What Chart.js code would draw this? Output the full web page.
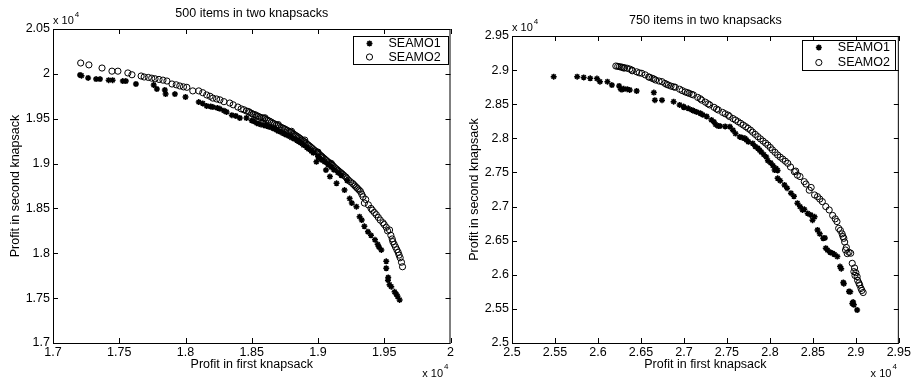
<!DOCTYPE html>
<html>
<head>
<meta charset="utf-8">
<script src="https://cdn.jsdelivr.net/npm/chart.js@4.4.1/dist/chart.umd.min.js"></script>
<style>
  html, body { margin: 0; padding: 0; background: #fff; }
  #wrap { position: relative; width: 913px; height: 381px; }
  canvas { position: absolute; top: 0; }
  #chart-500 { left: 0; }
  #chart-750 { left: 456px; }
</style>
</head>
<body>
<div id="wrap">
  <canvas id="chart-500" width="456" height="381"></canvas>
  <canvas id="chart-750" width="457" height="381"></canvas>
</div>
<script>
// ---- 500 items ----
const ticks500X = [17000, 17500, 18000, 18500, 19000, 19500, 20000];
const ticks500Y = [17000, 17500, 18000, 18500, 19000, 19500, 20000, 20500];

const seamo1_500 = [
  [17204, 19987], [17215, 19980], [17265, 19955], [17325, 19942], [17355, 19942],
  [17420, 19930], [17450, 19930], [17527, 19920], [17550, 19920], [17626, 19887],
  [17760, 19876], [17784, 19831], [17844, 19820], [17850, 19775], [17920, 19775],
  [18000, 19742], [18100, 19686], [18130, 19670], [18160, 19642], [18190, 19636],
  [18207, 19630], [18240, 19620], [18260, 19610], [18290, 19590], [18310, 19575],
  [18350, 19540], [18380, 19530], [18410, 19508], [18460, 19508], [18500, 19480],
  [18520, 19470], [18538, 19450], [18555, 19445], [18570, 19435], [18590, 19428],
  [18610, 19420], [18630, 19410], [18650, 19400], [18670, 19388], [18688, 19374],
  [18700, 19362], [18720, 19350], [18740, 19336], [18760, 19320], [18780, 19306],
  [18800, 19290], [18820, 19276], [18840, 19260], [18855, 19246], [18870, 19230],
  [18890, 19206], [18915, 19180], [18930, 19162], [18950, 19140], [18965, 19120],
  [18988, 19020], [19000, 19080], [19010, 19060], [19030, 19040], [19050, 19020],
  [19075, 18990], [19100, 18960], [19120, 18930], [19150, 18900], [19175, 18870],
  [19220, 18810], [19060, 18928], [19090, 18855], [19140, 18780], [19200, 18705],
  [19239, 18610], [19255, 18560], [19290, 18520], [19314, 18408], [19330, 18370],
  [19350, 18300], [19377, 18240], [19400, 18200], [19430, 18150], [19450, 18100],
  [19460, 18070], [19478, 18037], [19515, 17910], [19515, 17833], [19528, 17700],
  [19530, 17730], [19540, 17650], [19553, 17628], [19578, 17570], [19590, 17545],
  [19600, 17520], [19616, 17480]
];
const seamo2_500 = [
  [17209, 20121], [17271, 20100], [17370, 20065], [17445, 20030], [17490, 20030],
  [17565, 20010], [17596, 19990], [17665, 19976], [17688, 19965], [17720, 19960],
  [17745, 19952], [17770, 19945], [17800, 19938], [17830, 19930], [17860, 19920],
  [17898, 19887], [17930, 19878], [17957, 19865], [17985, 19855], [18010, 19850],
  [18055, 19810], [18100, 19810], [18130, 19790], [18160, 19765], [18185, 19750],
  [18206, 19730], [18235, 19720], [18260, 19710], [18290, 19690], [18334, 19675],
  [18360, 19655], [18395, 19630], [18420, 19610], [18440, 19600], [18460, 19586],
  [18475, 19580], [18485, 19570], [18500, 19558], [18510, 19550], [18525, 19545],
  [18535, 19535], [18548, 19528], [18560, 19518], [18572, 19512], [18585, 19508],
  [18598, 19500], [18600, 19510], [18610, 19490], [18622, 19482], [18635, 19472],
  [18648, 19462], [18660, 19450], [18672, 19442], [18685, 19432], [18698, 19424],
  [18700, 19435], [18710, 19412], [18722, 19404], [18734, 19396], [18745, 19388],
  [18755, 19380], [18768, 19370], [18780, 19360], [18790, 19352], [18800, 19345],
  [18800, 19360], [18812, 19333], [18820, 19325], [18830, 19315], [18840, 19305],
  [18850, 19296], [18860, 19285], [18870, 19274], [18880, 19262], [18890, 19250],
  [18900, 19240], [18900, 19262], [18910, 19228], [18920, 19215], [18930, 19203],
  [18940, 19190], [18950, 19178], [18960, 19165], [18970, 19152], [18980, 19140],
  [18990, 19128], [19000, 19115], [19000, 19128], [19010, 19103], [19020, 19090],
  [19028, 19080], [19035, 19070], [19045, 19058], [19055, 19045], [19065, 19032],
  [19075, 19020], [19082, 19010], [19090, 19000], [19100, 18990], [19100, 19002],
  [19110, 18980], [19120, 18965], [19130, 18950], [19140, 18938], [19150, 18925],
  [19160, 18912], [19170, 18900], [19178, 18890], [19186, 18880], [19198, 18865],
  [19210, 18850], [19220, 18832], [19230, 18815], [19245, 18797], [19260, 18780],
  [19270, 18765], [19280, 18750], [19290, 18735], [19300, 18720], [19310, 18705],
  [19320, 18690], [19330, 18660], [19340, 18630], [19350, 18560], [19360, 18600],
  [19380, 18540], [19400, 18500], [19410, 18480], [19425, 18455], [19440, 18430],
  [19455, 18400], [19470, 18370], [19490, 18340], [19500, 18320], [19515, 18290],
  [19525, 18250], [19540, 18260], [19550, 18200], [19560, 18160], [19565, 18130],
  [19575, 18100], [19585, 18070], [19595, 18040], [19605, 18010], [19612, 17980],
  [19620, 17950], [19630, 17900], [19638, 17850]
];

// ---- 750 items ----
const ticks750X = [25000, 25500, 26000, 26500, 27000, 27500, 28000, 28500, 29000, 29500];
const ticks750Y = [25000, 25500, 26000, 26500, 27000, 27500, 28000, 28500, 29000, 29500];

const seamo1_750 = [
  [25485, 28904], [25758, 28904], [25834, 28893], [25910, 28880], [25988, 28876],
  [26023, 28830], [26110, 28830], [26162, 28780], [26246, 28768], [26265, 28720],
  [26280, 28715], [26300, 28725], [26340, 28720], [26370, 28710], [26450, 28694],
  [26650, 28670], [26662, 28560], [26745, 28560], [26880, 28537], [26950, 28490],
  [26996, 28465], [27000, 28455], [27050, 28440], [27090, 28416], [27120, 28400],
  [27150, 28385], [27190, 28368], [27220, 28345], [27265, 28320], [27320, 28270],
  [27350, 28240], [27370, 28200], [27400, 28180], [27420, 28180], [27480, 28175],
  [27535, 28170], [27570, 28120], [27600, 28070], [27650, 28020], [27680, 28010],
  [27710, 28000], [27727, 27977], [27750, 27950], [27800, 27925], [27830, 27880],
  [27860, 27855], [27880, 27826], [27900, 27800], [27930, 27760], [27958, 27728],
  [27977, 27672], [28010, 27640], [28035, 27600], [28055, 27535], [28070, 27560],
  [28090, 27530], [28090, 27414], [28120, 27380], [28170, 27316], [28200, 27270],
  [28245, 27196], [28280, 27150], [28320, 27050], [28350, 27000], [28379, 26950],
  [28400, 26960], [28440, 26900], [28476, 26876], [28496, 26800], [28520, 26850],
  [28554, 26656], [28580, 26600], [28620, 26535], [28640, 26540], [28650, 26390],
  [28670, 26360], [28700, 26330], [28727, 26316], [28750, 26300], [28785, 26267],
  [28816, 26120], [28830, 26090], [28854, 25887], [28860, 25870], [28920, 25755],
  [28935, 25750], [28958, 25580], [28968, 25600], [28977, 25560], [29015, 25484]
];
const seamo2_750 = [
  [26208, 29060], [26230, 29055], [26250, 29050], [26270, 29045], [26285, 29040],
  [26300, 29030], [26310, 29035], [26340, 29027], [26370, 29015], [26396, 29000],
  [26400, 28990], [26450, 28975], [26480, 28960], [26510, 28953], [26550, 28930],
  [26590, 28900], [26600, 28895], [26630, 28880], [26650, 28870], [26670, 28855],
  [26710, 28840], [26745, 28830], [26780, 28805], [26800, 28790], [26820, 28780],
  [26850, 28765], [26880, 28755], [26900, 28748], [26950, 28720], [26980, 28700],
  [27015, 28680], [27040, 28670], [27060, 28660], [27090, 28645], [27110, 28636],
  [27160, 28600], [27190, 28580], [27207, 28560], [27250, 28530], [27280, 28505],
  [27300, 28490], [27350, 28455], [27380, 28430], [27400, 28415], [27450, 28380],
  [27480, 28360], [27515, 28340], [27530, 28320], [27570, 28290], [27600, 28268],
  [27630, 28244], [27660, 28220], [27690, 28195], [27720, 28170], [27746, 28147],
  [27775, 28120], [27800, 28090], [27830, 28058], [27860, 28024], [27890, 27992],
  [27920, 27960], [27950, 27930], [27977, 27900], [28005, 27866], [28030, 27830],
  [28060, 27795], [28090, 27756], [28120, 27725], [28150, 27695], [28180, 27665],
  [28208, 27634], [28240, 27580], [28285, 27510], [28300, 27520], [28320, 27460],
  [28350, 27440], [28400, 27365], [28420, 27330], [28458, 27240], [28480, 27280],
  [28520, 27170], [28554, 27145], [28580, 27110], [28610, 27072], [28650, 27000],
  [28690, 26950], [28730, 26870], [28760, 26820], [28780, 26780], [28800, 26680],
  [28820, 26650], [28840, 26600], [28850, 26560], [28860, 26535], [28870, 26480],
  [28880, 26363], [28890, 26400], [28900, 26310], [28920, 26330], [28940, 26316],
  [28958, 26168], [28977, 26046], [28985, 26100], [28990, 25990], [29000, 26030],
  [29015, 25973], [29020, 25920], [29035, 25880], [29045, 25850], [29060, 25800],
  [29070, 25770], [29085, 25740]
];

const BLACK = '#000';
const FONT = { family: '"Liberation Sans", Arial, Helvetica, sans-serif', size: 12.5 };
Chart.defaults.font.family = FONT.family;

const fmtTick = v => String(Math.round(v / 1e4 * 100) / 100);

// MATLAB-style box, inward ticks on all four sides, "x 10^4" exponents
const matlabAxes = {
  id: 'matlabAxes',
  afterDatasetsDraw(chart) {
    const { ctx, chartArea: a, scales: { x, y } } = chart;
    const t = 5;
    ctx.save();
    ctx.strokeStyle = BLACK;
    ctx.lineWidth = 1;
    ctx.beginPath();
    x.ticks.forEach(tk => {
      const px = Math.round(x.getPixelForValue(tk.value)) + 0.5;
      ctx.moveTo(px, a.bottom); ctx.lineTo(px, a.bottom - t);
      ctx.moveTo(px, a.top); ctx.lineTo(px, a.top + t);
    });
    y.ticks.forEach(tk => {
      const py = Math.round(y.getPixelForValue(tk.value)) + 0.5;
      ctx.moveTo(a.left, py); ctx.lineTo(a.left + t, py);
      ctx.moveTo(a.right, py); ctx.lineTo(a.right - t, py);
    });
    ctx.stroke();
    ctx.strokeRect(a.left + 0.5, a.top + 0.5, a.right - a.left - 1, a.bottom - a.top);

    ctx.fillStyle = BLACK;
    ctx.textBaseline = 'alphabetic';
    // exponent above y axis
    ctx.font = '11px ' + FONT.family;
    ctx.textAlign = 'left';
    ctx.fillText('x 10', a.left, a.top - 5);
    const w = ctx.measureText('x 10').width;
    ctx.font = '8px ' + FONT.family;
    ctx.fillText('4', a.left + w + 1, a.top - 12);
    // exponent below x axis
    ctx.textAlign = 'right';
    ctx.fillText('4', a.right - 2, a.bottom + 26);
    const w4 = ctx.measureText('4').width;
    ctx.font = '11px ' + FONT.family;
    ctx.fillText('x 10', a.right - 3 - w4, a.bottom + 33.5);
    ctx.restore();
  },
  afterDraw(chart, args, opts) {
    // boxed legend inside the axes (top right)
    const { ctx, chartArea: a } = chart;
    const bx = a.right - opts.inset - opts.width;
    const by = a.top + opts.top;
    ctx.save();
    ctx.fillStyle = '#fff';
    ctx.fillRect(bx, by, opts.width, opts.height);
    ctx.strokeStyle = BLACK;
    ctx.lineWidth = 1;
    ctx.strokeRect(Math.round(bx) + 0.5, Math.round(by) + 0.5, opts.width, opts.height);
    chart.data.datasets.forEach((ds, i) => {
      const ry = by + opts.rows[i];
      ctx.strokeStyle = BLACK;
      ctx.fillStyle = 'rgba(0,0,0,0)';
      ctx.lineWidth = ds.borderWidth;
      Chart.helpers.drawPoint(ctx, { pointStyle: ds.pointStyle, radius: ds.pointRadius, rotation: 0, borderWidth: ds.borderWidth }, bx + 17, ry);
      ctx.fillStyle = BLACK;
      ctx.font = '12.5px ' + FONT.family;
      ctx.textAlign = 'left';
      ctx.textBaseline = 'middle';
      ctx.fillText(ds.label, bx + 36, ry + 0.5);
    });
    ctx.restore();
  }
};

function toPoints(pairs) {
  return pairs.map(p => ({ x: p[0], y: p[1] }));
}

function axisCfg(tickList, titleText, titlePad, fit) {
  return {
    type: 'linear',
    min: tickList[0],
    max: tickList[tickList.length - 1],
    afterBuildTicks: s => { s.ticks = tickList.map(v => ({ value: v })); },
    afterFit: fit,
    grid: { display: false, drawTicks: false },
    border: { display: false },
    ticks: { callback: fmtTick, color: BLACK, font: FONT, maxRotation: 0, autoSkip: false },
    title: { display: true, text: titleText, color: BLACK, font: FONT, padding: titlePad }
  };
}

function createKnapsackChart(id, cfg) {
  const ctx = document.getElementById(id);
  if (!ctx) return;

  const x = axisCfg(cfg.xTicks, 'Profit in first knapsack', { top: 0, bottom: 8.5 }, s => { s.height = 38; });
  x.ticks.padding = 2;
  const y = axisCfg(cfg.yTicks, 'Profit in second knapsack', { top: cfg.yTitlePad, bottom: 0 }, s => { s.width = cfg.yAxisWidth; });
  y.ticks.padding = 3;

  new Chart(ctx, {
    type: 'scatter',
    data: {
      datasets: [
        {
          label: 'SEAMO1',
          data: toPoints(cfg.s1),
          pointStyle: 'star',
          pointRadius: 3,
          borderWidth: 1.5,
          borderColor: BLACK,
          backgroundColor: BLACK
        },
        {
          label: 'SEAMO2',
          data: toPoints(cfg.s2),
          pointStyle: 'circle',
          pointRadius: 3.1,
          borderWidth: 1,
          borderColor: BLACK,
          backgroundColor: 'rgba(0,0,0,0)'
        }
      ]
    },
    options: {
      responsive: false,
      animation: false,
      events: [],
      layout: { padding: { left: 0, right: cfg.padRight, top: 0, bottom: 0 } },
      plugins: {
        legend: { display: false },
        tooltip: { enabled: false },
        title: {
          display: true,
          text: cfg.title,
          fullSize: false,
          color: BLACK,
          font: { ...FONT, weight: 'normal' },
          padding: { top: cfg.titlePadTop, bottom: 7.5 }
        },
        matlabAxes: cfg.legendBox
      },
      scales: { x, y }
    },
    plugins: [matlabAxes]
  });
}

createKnapsackChart('chart-500', {
  title: '500 items in two knapsacks',
  xTicks: ticks500X, yTicks: ticks500Y,
  s1: seamo1_500, s2: seamo2_500,
  yAxisWidth: 53, yTitlePad: 8.5, padRight: 5, titlePadTop: 6.5,
  legendBox: { inset: 3, top: 7, width: 95, height: 28, rows: [7.5, 21] }
});

createKnapsackChart('chart-750', {
  title: '750 items in two knapsacks',
  xTicks: ticks750X, yTicks: ticks750Y,
  s1: seamo1_750, s2: seamo2_750,
  yAxisWidth: 56, yTitlePad: 11.5, padRight: 11, titlePadTop: 13.5,
  legendBox: { inset: 4, top: 4, width: 93, height: 30, rows: [7.5, 22.5] }
});
</script>
</body>
</html>
